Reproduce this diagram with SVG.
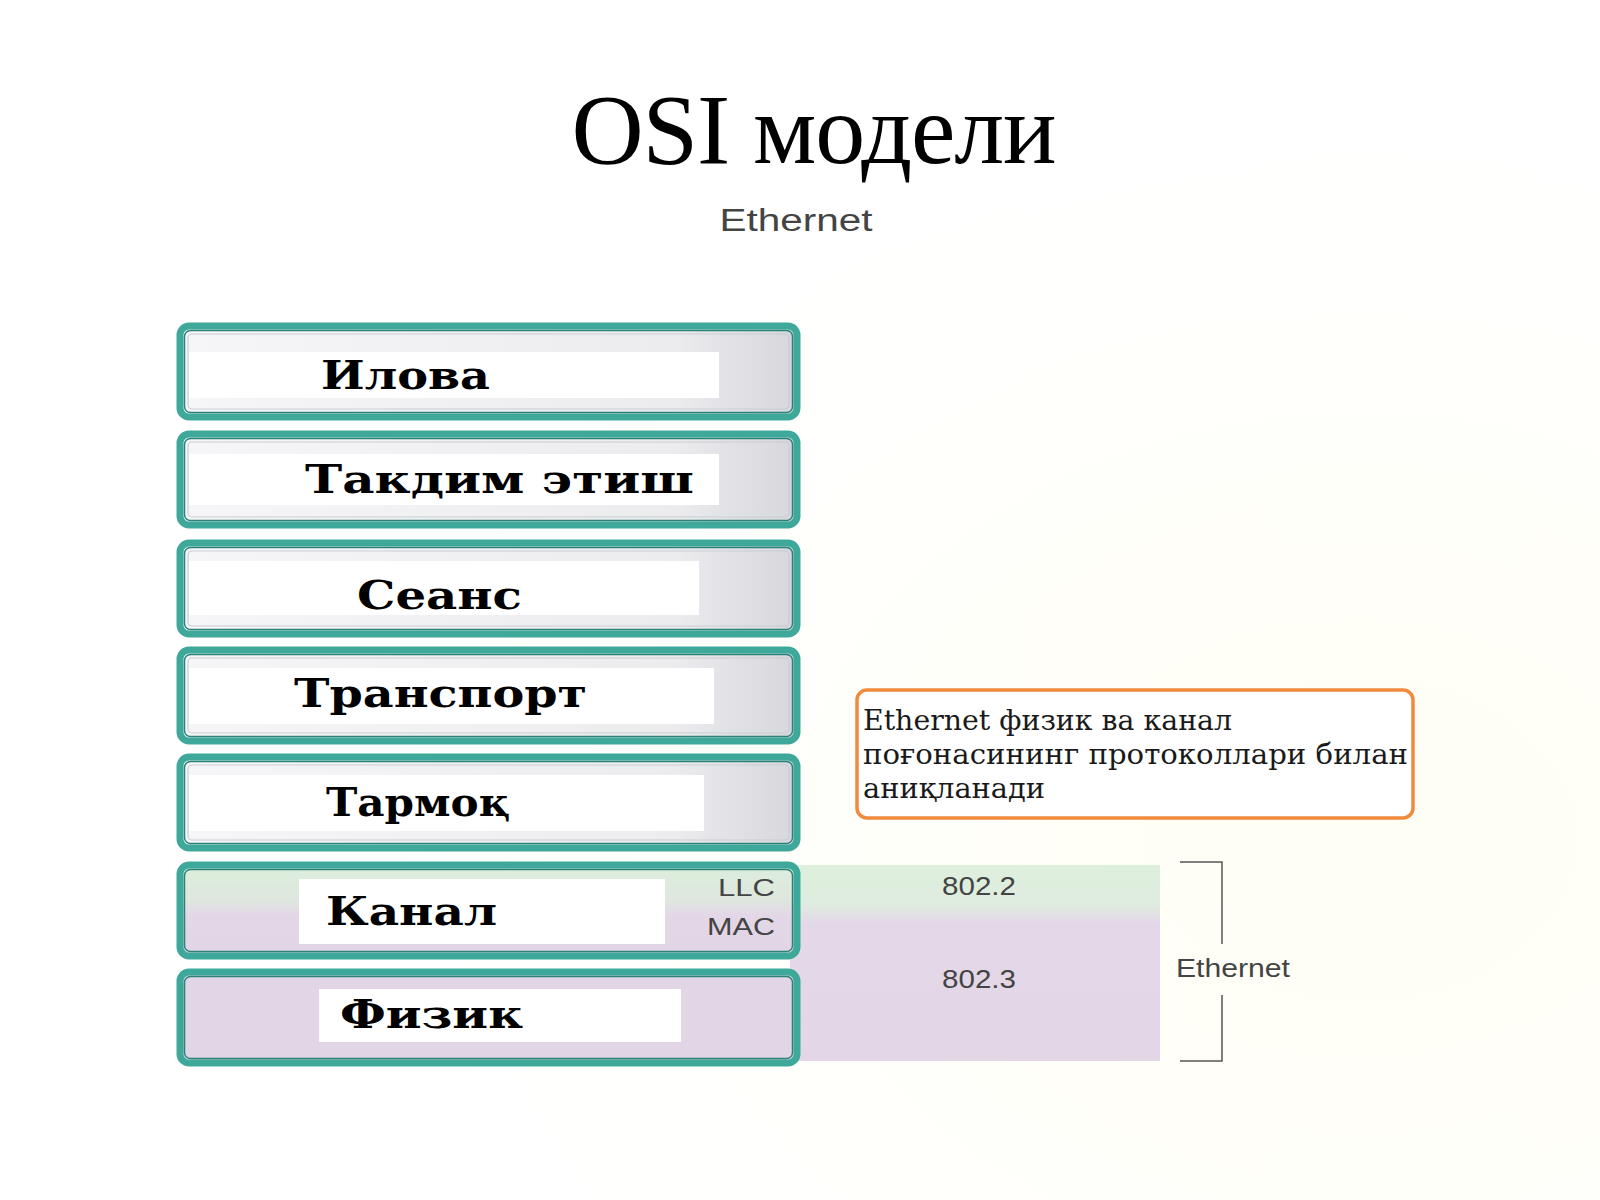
<svg xmlns="http://www.w3.org/2000/svg" width="1600" height="1200" viewBox="0 0 1600 1200">
<defs>
<linearGradient id="gBox" x1="0" y1="0" x2="1" y2="0">
<stop offset="0" stop-color="#f6f6f8"/>
<stop offset="0.8" stop-color="#ececef"/>
<stop offset="1" stop-color="#d6d6dc"/>
</linearGradient>
<linearGradient id="gKanal" x1="0" y1="0" x2="0" y2="1">
<stop offset="0" stop-color="#dcefdc"/>
<stop offset="0.4" stop-color="#dfe6df"/>
<stop offset="0.55" stop-color="#e3d7e7"/>
<stop offset="1" stop-color="#e2d5e6"/>
</linearGradient>
<linearGradient id="gBand" x1="0" y1="0" x2="0" y2="1">
<stop offset="0" stop-color="#ddf0dc"/>
<stop offset="0.2" stop-color="#dfece0"/>
<stop offset="0.3" stop-color="#e4d7e8"/>
<stop offset="1" stop-color="#e3d6e7"/>
</linearGradient>
<radialGradient id="gBg" cx="0.85" cy="0.7" r="0.6">
<stop offset="0" stop-color="#fffef4"/>
<stop offset="1" stop-color="#ffffff"/>
</radialGradient>
</defs>
<style>
.outer{stroke:#3ea99a;stroke-width:7}
.inner1{fill:none;stroke:#2a8378;stroke-width:1.5}
.inner2{fill:none;stroke:#c9cdd2;stroke-width:1.2}
.wh{fill:#ffffff}
.lbl{font-family:"DejaVu Serif","Liberation Serif",serif;font-weight:bold;font-size:40px;fill:#000}
.sans{font-family:"Liberation Sans","DejaVu Sans",sans-serif;fill:#444}
.note{font-family:"DejaVu Serif","Liberation Serif",serif;font-size:27px;fill:#1a1a1a}
</style>
<rect x="0" y="0" width="1600" height="1200" fill="url(#gBg)"/>
<text x="814" y="163" text-anchor="middle" font-family="Liberation Serif, DejaVu Serif, serif" font-size="100" fill="#000" textLength="485">OSI модели</text>
<text x="796" y="231" text-anchor="middle" class="sans" font-size="31" fill="#3a3a3a" textLength="153" lengthAdjust="spacingAndGlyphs">Ethernet</text>

<g id="band">
<rect x="790" y="865" width="370" height="196" fill="url(#gBand)"/>
<text x="979" y="895" text-anchor="middle" class="sans" font-size="25" textLength="74" lengthAdjust="spacingAndGlyphs">802.2</text>
<text x="979" y="988" text-anchor="middle" class="sans" font-size="25" textLength="74" lengthAdjust="spacingAndGlyphs">802.3</text>
</g>

<g id="bracket" fill="none" stroke="#555" stroke-width="1.5">
<polyline points="1180,862 1222,862 1222,944"/>
<polyline points="1222,995 1222,1061 1180,1061"/>
</g>
<text x="1176" y="977" class="sans" font-size="25" fill="#444" textLength="114" lengthAdjust="spacingAndGlyphs">Ethernet</text>

<g id="layer-ilova">
<rect class="outer" x="180" y="326" width="617" height="91" rx="9" fill="url(#gBox)"/>
<rect class="inner1" x="184.5" y="330.5" width="608" height="82" rx="6"/>
<rect class="inner2" x="188" y="334" width="601" height="75" rx="4"/>
<rect class="wh" x="189" y="352" width="530" height="46"/>
<text class="lbl" x="321" y="389" textLength="169" lengthAdjust="spacingAndGlyphs">Илова</text>
</g>
<g id="layer-taqdim">
<rect class="outer" x="180" y="434" width="617" height="91" rx="9" fill="url(#gBox)"/>
<rect class="inner1" x="184.5" y="438.5" width="608" height="82" rx="6"/>
<rect class="inner2" x="188" y="442" width="601" height="75" rx="4"/>
<rect class="wh" x="189" y="454" width="530" height="51"/>
<text class="lbl" x="305" y="493" textLength="389" lengthAdjust="spacingAndGlyphs">Такдим этиш</text>
</g>
<g id="layer-seans">
<rect class="outer" x="180" y="543" width="617" height="91" rx="9" fill="url(#gBox)"/>
<rect class="inner1" x="184.5" y="547.5" width="608" height="82" rx="6"/>
<rect class="inner2" x="188" y="551" width="601" height="75" rx="4"/>
<rect class="wh" x="189" y="561" width="510" height="54"/>
<text class="lbl" x="357" y="609" textLength="165" lengthAdjust="spacingAndGlyphs">Сеанс</text>
</g>
<g id="layer-transport">
<rect class="outer" x="180" y="650" width="617" height="91" rx="9" fill="url(#gBox)"/>
<rect class="inner1" x="184.5" y="654.5" width="608" height="82" rx="6"/>
<rect class="inner2" x="188" y="658" width="601" height="75" rx="4"/>
<rect class="wh" x="189" y="668" width="525" height="56"/>
<text class="lbl" x="294" y="707" textLength="293" lengthAdjust="spacingAndGlyphs">Транспорт</text>
</g>
<g id="layer-tarmoq">
<rect class="outer" x="180" y="757" width="617" height="91" rx="9" fill="url(#gBox)"/>
<rect class="inner1" x="184.5" y="761.5" width="608" height="82" rx="6"/>
<rect class="inner2" x="188" y="765" width="601" height="75" rx="4"/>
<rect class="wh" x="189" y="775" width="515" height="56"/>
<text class="lbl" x="326" y="816" textLength="184" lengthAdjust="spacingAndGlyphs">Тармоқ</text>
</g>
<g id="layer-kanal">
<rect class="outer" x="180" y="865" width="617" height="91" rx="9" fill="url(#gKanal)"/>
<rect class="inner1" x="184.5" y="869.5" width="608" height="82" rx="6"/>
<rect class="wh" x="299" y="879" width="366" height="65"/>
<text class="lbl" x="326" y="925" textLength="171" lengthAdjust="spacingAndGlyphs">Канал</text>
<text class="sans" x="775" y="896" text-anchor="end" font-size="24" fill="#4a4a4a" textLength="57" lengthAdjust="spacingAndGlyphs">LLC</text>
<text class="sans" x="775" y="935" text-anchor="end" font-size="24" fill="#4a4a4a" textLength="68" lengthAdjust="spacingAndGlyphs">MAC</text>
</g>
<g id="layer-fizik">
<rect class="outer" x="180" y="972" width="617" height="91" rx="9" fill="#e2d5e6"/>
<rect class="inner1" x="184.5" y="976.5" width="608" height="82" rx="6"/>
<rect class="wh" x="319" y="989" width="362" height="53"/>
<text class="lbl" x="340" y="1028" textLength="183" lengthAdjust="spacingAndGlyphs">Физик</text>
</g>

<g id="note">
<rect x="857" y="690" width="556" height="128" rx="10" fill="#ffffff" stroke="#f08a3c" stroke-width="3.5"/>
<text class="note" x="863" y="730" textLength="369" lengthAdjust="spacingAndGlyphs">Ethernet физик ва канал</text>
<text class="note" x="863" y="764" textLength="545" lengthAdjust="spacingAndGlyphs">поғонасининг протоколлари билан</text>
<text class="note" x="863" y="798" textLength="182" lengthAdjust="spacingAndGlyphs">аниқланади</text>
</g>
</svg>
